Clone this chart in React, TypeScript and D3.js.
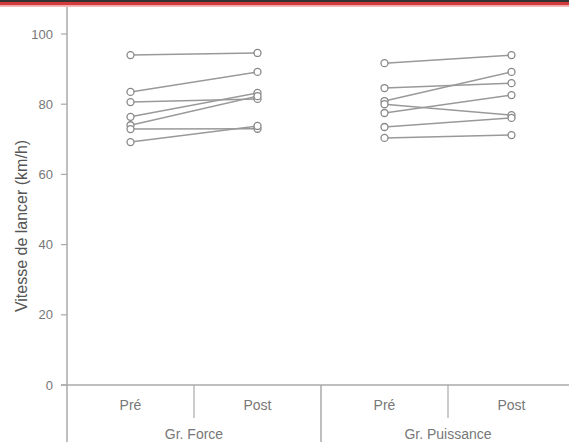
import React from 'react';
import * as d3 from 'd3';

// categories on the x axis
const conditions = ['Pré', 'Post', 'Pré', 'Post'];
const groups = ['Gr. Force', 'Gr. Puissance'];
const yTicks = [0, 20, 40, 60, 80, 100];
const yLabel = 'Vitesse de lancer (km/h)';

// per-subject speeds (km/h), pre / post
const forcePre = [94, 83.5, 80.6, 76.4, 74, 72.9, 69.2];
const forcePost = [94.6, 89.2, 81.5, 83.2, 82.3, 73, 73.8];
const puissPre = [91.7, 84.6, 80.9, 80, 77.5, 73.5, 70.4];
const puissPost = [94, 86, 89.2, 76.9, 82.6, 76.1, 71.2];

export default function App() {
    const width = 569;
    const height = 442;
    const axisX = 67;
    const axisY = 385;

    const yScale = d3.scaleLinear().domain([0, 100]).range([axisY, 34]);
    const xScale = d3.scaleBand<number>()
        .domain(d3.range(conditions.length))
        .range([axisX, axisX + 4 * 127])
        .padding(0);
    const cx = (i: number) => (xScale(i) as number) + xScale.bandwidth() / 2;

    const pairs = [
        { pre: forcePre, post: forcePost, i0: 0, i1: 1 },
        { pre: puissPre, post: puissPost, i0: 2, i1: 3 },
    ];

    const line = d3.line<[number, number]>().x(d => d[0]).y(d => d[1]);
    const textColor = '#777';
    const font = 'Liberation Sans, Arial, sans-serif';

    return (
        <svg width={width} height={height} style={{ position: 'absolute', left: 0, top: 0 }}
            fontFamily={font}>
            <rect x={0} y={0} width={width} height={height} fill="#fff" />
            {/* header band */}
            <rect x={0} y={0} width={width} height={2} fill="#333" />
            <rect x={0} y={2} width={width} height={3.5} fill="#d33a3a" />
            <rect x={0} y={5.5} width={width} height={1.5} fill="#f4b8b8" />

            {/* y axis */}
            <line x1={axisX} x2={axisX} y1={7} y2={height} stroke="#aaa" strokeWidth={1.5} />
            {yTicks.map(t => (
                <g key={t} transform={`translate(0,${yScale(t)})`}>
                    <line x1={axisX - 6} x2={axisX} stroke="#aaa" strokeWidth={1.2} />
                    <text x={axisX - 14} dy="0.35em" textAnchor="end" fontSize={13} fill={textColor}>{t}</text>
                </g>
            ))}
            <text transform={`translate(21,${226}) rotate(-90)`} textAnchor="middle" fontSize={16}
                fill="#555" dy="0.35em">{yLabel}</text>

            {/* x axis */}
            <line x1={axisX - 6} x2={width} y1={axisY} y2={axisY} stroke="#aaa" strokeWidth={1.5} />
            {[1, 3].map(i => (
                <line key={i} x1={xScale(i) as number} x2={xScale(i) as number} y1={axisY} y2={418}
                    stroke="#aaa" strokeWidth={1.2} />
            ))}
            <line x1={xScale(2) as number} x2={xScale(2) as number} y1={axisY} y2={height}
                stroke="#aaa" strokeWidth={1.5} />
            {conditions.map((c, i) => (
                <text key={i} x={cx(i)} y={410} textAnchor="middle" fontSize={14} fill={textColor}>{c}</text>
            ))}
            {groups.map((g, k) => (
                <text key={g} x={xScale(2 * k + 1) as number} y={439} textAnchor="middle" fontSize={14}
                    fill={textColor}>{g}</text>
            ))}

            {/* paired lines */}
            {pairs.map((p, k) => (
                <g key={k}>
                    {p.pre.map((v, j) => (
                        <path key={j} d={line([[cx(p.i0), yScale(v)], [cx(p.i1), yScale(p.post[j])]]) || ''}
                            fill="none" stroke="#999" strokeWidth={1.5} />
                    ))}
                    {p.pre.map((v, j) => (
                        <circle key={'a' + j} cx={cx(p.i0)} cy={yScale(v)} r={3.5} fill="#fff" stroke="#888" strokeWidth={1.3} />
                    ))}
                    {p.post.map((v, j) => (
                        <circle key={'b' + j} cx={cx(p.i1)} cy={yScale(v)} r={3.5} fill="#fff" stroke="#888" strokeWidth={1.3} />
                    ))}
                </g>
            ))}
        </svg>
    );
}
